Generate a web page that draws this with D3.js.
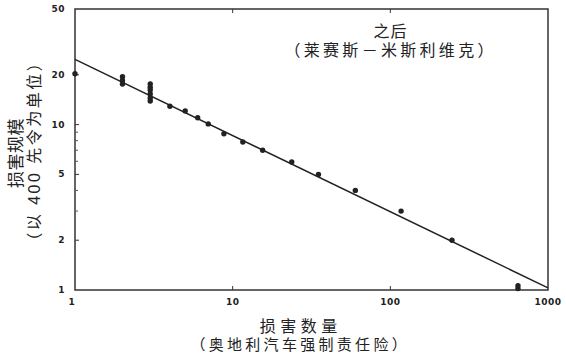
<!DOCTYPE html>
<html>
<head>
  <meta charset="utf-8">
  <style>
    body { margin: 0; background: #fff; }
    .tick-label { font-family: 'DejaVu Sans', sans-serif; font-weight: bold; font-size: 9px; fill: #222; }
    .title { font-family: 'Liberation Sans', 'Noto Sans CJK SC', sans-serif; fill: #222; }
  </style>
</head>
<body>
  <div class="chart"></div>
  <script src="https://cdn.jsdelivr.net/npm/d3@7"></script>
  <script>
    // observed points (number of losses vs loss size)
    var lossCount = [1, 2, 2, 2, 3, 3, 3, 3, 3, 3, 4, 5, 6, 7, 8.8, 11.6, 15.5, 23.7, 35, 60, 117, 246, 645, 645];
    var lossSize = [20.3, 19.5, 18.5, 17.6, 17.6, 16.8, 16.2, 15.3, 14.5, 13.9, 12.9, 12.1, 11, 10.1, 8.8, 7.85, 7.0, 5.95, 5.0, 4.0, 3.0, 2.0, 1.06, 1.02];

    // fitted line end points
    var fitX = [1, 1000];
    var fitY = [24.8, 1.03];

    var xTicks = [1, 10, 100, 1000];
    var yTicks = [1, 2, 5, 10, 20, 50];
    var yMinor = [3, 4, 6, 7, 8, 9];

    var width = 566, height = 357;
    var plotLeft = 75, plotRight = 548, plotTop = 9, plotBottom = 290;
    var ink = '#222';

    var x = d3.scaleLog().domain([1, 1000]).range([plotLeft, plotRight]);
    var y = d3.scaleLog().domain([1, 50]).range([plotBottom, plotTop]);

    var svg = d3.select('.chart').append('svg')
      .attr('width', width)
      .attr('height', height);

    svg.append('rect')
      .attr('width', width).attr('height', height)
      .attr('fill', '#fff');

    // frame
    svg.append('rect')
      .attr('x', plotLeft).attr('y', plotTop)
      .attr('width', plotRight - plotLeft).attr('height', plotBottom - plotTop)
      .attr('fill', 'none')
      .attr('stroke', '#333')
      .attr('stroke-width', 1.5);

    // x ticks (inside, bottom and top)
    var xInner = xTicks.slice(1, -1);
    svg.selectAll('.xt-b').data(xInner).enter().append('line')
      .attr('x1', function (d) { return x(d); }).attr('x2', function (d) { return x(d); })
      .attr('y1', plotBottom).attr('y2', plotBottom - 4)
      .attr('stroke', '#333');
    svg.selectAll('.xt-t').data(xInner).enter().append('line')
      .attr('x1', function (d) { return x(d); }).attr('x2', function (d) { return x(d); })
      .attr('y1', plotTop).attr('y2', plotTop + 4)
      .attr('stroke', '#333');

    svg.selectAll('.xl').data(xTicks).enter().append('text')
      .attr('class', 'tick-label')
      .attr('x', function (d) { return x(d) - (d === 1 ? 3 : 0); })
      .attr('y', 305)
      .attr('text-anchor', 'middle')
      .attr('letter-spacing', 0.5)
      .text(function (d) { return d; });

    // y ticks
    svg.selectAll('.yt').data(yTicks.slice(1, -1)).enter().append('line')
      .attr('x1', plotLeft).attr('x2', plotLeft + 4)
      .attr('y1', function (d) { return y(d); }).attr('y2', function (d) { return y(d); })
      .attr('stroke', '#333');
    svg.selectAll('.ym').data(yMinor).enter().append('line')
      .attr('x1', plotLeft).attr('x2', plotLeft + 3)
      .attr('y1', function (d) { return y(d); }).attr('y2', function (d) { return y(d); })
      .attr('stroke', '#555');

    svg.selectAll('.yl').data(yTicks).enter().append('text')
      .attr('class', 'tick-label')
      .attr('x', 65)
      .attr('y', function (d) { return y(d) + 3; })
      .attr('text-anchor', 'end')
      .attr('letter-spacing', 0.5)
      .text(function (d) { return d; });

    // fitted line
    var line = d3.line()
      .x(function (d) { return x(d[0]); })
      .y(function (d) { return y(d[1]); });
    svg.append('path')
      .attr('d', line(d3.zip(fitX, fitY)))
      .attr('fill', 'none')
      .attr('stroke', ink)
      .attr('stroke-width', 1.5);

    // points
    svg.selectAll('.pt').data(d3.zip(lossCount, lossSize)).enter().append('circle')
      .attr('cx', function (d) { return x(d[0]); })
      .attr('cy', function (d) { return y(d[1]); })
      .attr('r', 2.7)
      .attr('fill', ink);

    // two-line text helper
    function twoLines(g, lines) {
      var t = g.append('text').attr('class', 'title').attr('text-anchor', 'middle');
      lines.forEach(function (l) {
        t.append('tspan')
          .attr('x', l.x).attr('y', l.y)
          .style('font-size', l.size + 'px')
          .attr('letter-spacing', l.ls)
          .text(l.text);
      });
      return t;
    }

    // annotation
    twoLines(svg, [
      { text: '之后', x: 390.5, y: 37, size: 16, ls: 1 },
      { text: '（莱赛斯－米斯利维克）', x: 390.6, y: 56, size: 16, ls: 3.3 }
    ]);

    // x axis title
    twoLines(svg, [
      { text: '损害数量', x: 300.7, y: 332, size: 16, ls: 4.5 },
      { text: '（奥地利汽车强制责任险）', x: 300.2, y: 350, size: 15, ls: 3.3 }
    ]);

    // y axis title (rotated)
    twoLines(svg.append('g').attr('transform', 'rotate(-90)'), [
      { text: '损害规模', x: -153, y: 21.5, size: 17, ls: 0.5 },
      { text: '（以 400 先令为单位）', x: -150.75, y: 40, size: 16, ls: 2.5 }
    ]);
  </script>
</body>
</html>
